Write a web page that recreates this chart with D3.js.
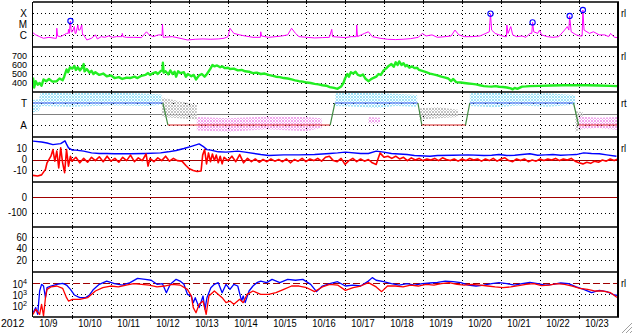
<!DOCTYPE html>
<html>
<head>
<meta charset="utf-8">
<script src="https://cdnjs.cloudflare.com/ajax/libs/d3/7.8.5/d3.min.js"></script>
<style>
body { margin: 0; background: #fff; }
svg { display: block; font-family: "Liberation Sans", Arial, sans-serif; font-size: 11px; }
</style>
</head>
<body>
<svg id="chart" width="633" height="334"></svg>
<script>
// times are days after 2012-10-09 00:00 UT

var xray = [[0,1.7e-6],[0.07,1.1e-6],[0.17,7.6e-7],[0.27,5.4e-7],[0.41,6.6e-7],[0.56,5.4e-7],[0.60,5.4e-7],[0.61,4.4e-6],[0.63,8.7e-7],[0.71,7.6e-7],[0.86,1.5e-6],[0.90,1.5e-6],[0.91,3.5e-6],[0.93,1.5e-6],[0.96,2.0e-5],[0.98,2.1e-6],[1.01,2.1e-6],[1.06,6.2e-6],[1.08,1.5e-6],[1.10,1.5e-6],[1.15,8.7e-6],[1.17,3.0e-6],[1.20,3.0e-6],[1.25,8.7e-6],[1.27,1.1e-6],[1.30,1.1e-6],[1.38,3.8e-7],[1.50,5.4e-7],[1.60,1.1e-6],[1.65,4.7e-7],[1.75,7.6e-7],[1.84,6.6e-7],[1.94,8.7e-7],[2.04,6.6e-7],[2.14,7.6e-7],[2.28,7.6e-7],[2.29,1.5e-6],[2.31,7.6e-7],[2.39,6.6e-7],[2.58,6.6e-7],[2.78,6.2e-7],[2.91,2.1e-6],[2.98,1.1e-6],[3.08,7.6e-7],[3.22,1.1e-6],[3.31,1.1e-6],[3.32,1.0e-5],[3.34,6.6e-7],[3.57,7.6e-7],[3.77,5.4e-7],[3.96,3.8e-7],[4.16,4.4e-7],[4.36,4.7e-7],[4.56,4.4e-7],[4.75,4.7e-7],[4.90,5.4e-7],[5.00,7.6e-7],[5.05,4.4e-6],[5.15,1.5e-6],[5.30,1.1e-6],[5.44,8.7e-7],[5.64,6.6e-7],[5.83,6.6e-7],[5.84,2.1e-6],[5.86,8.7e-7],[6.04,6.6e-7],[6.23,7.6e-7],[6.38,8.7e-7],[6.53,1.1e-6],[6.63,4.4e-6],[6.73,1.5e-6],[6.82,7.6e-7],[7.02,6.6e-7],[7.22,5.8e-7],[7.42,6.2e-7],[7.60,6.6e-7],[7.66,3.5e-6],[7.68,7.6e-7],[8.01,6.2e-7],[8.16,7.6e-7],[8.29,7.6e-7],[8.30,8.7e-6],[8.32,7.6e-7],[8.50,1.5e-6],[8.60,2.1e-6],[8.70,7.6e-7],[8.90,5.4e-7],[9.09,4.4e-7],[9.29,4.1e-7],[9.49,4.4e-7],[9.68,5.0e-7],[9.88,6.6e-7],[9.98,1.5e-6],[10.08,8.7e-7],[10.23,1.1e-6],[10.37,6.6e-7],[10.57,7.6e-7],[10.72,8.7e-7],[10.82,3.0e-6],[10.92,1.1e-6],[11.06,7.6e-7],[11.26,7.6e-7],[11.46,8.7e-7],[11.61,1.5e-6],[11.70,2.1e-6],[11.73,9.3e-5],[11.76,3.0e-6],[11.85,1.5e-6],[11.95,1.1e-6],[12.10,7.6e-7],[12.14,7.6e-7],[12.15,8.7e-6],[12.18,1.5e-6],[12.25,6.2e-6],[12.30,1.1e-6],[12.40,7.6e-7],[12.54,8.7e-7],[12.64,6.6e-7],[12.74,1.5e-6],[12.79,1.5e-6],[12.81,1.5e-5],[12.84,2.1e-6],[12.94,1.5e-6],[12.99,3.0e-6],[13.04,1.1e-6],[13.19,7.6e-7],[13.33,6.6e-7],[13.48,7.6e-7],[13.63,3.0e-6],[13.70,6.2e-6],[13.74,3.0e-6],[13.76,5.8e-5],[13.80,2.1e-6],[13.93,1.1e-6],[14.02,8.7e-7],[14.08,8.7e-7],[14.10,2.0e-4],[14.13,3.0e-6],[14.27,1.5e-6],[14.37,2.1e-6],[14.52,1.1e-6],[14.66,1.1e-6],[14.76,7.6e-7],[14.81,1.5e-6],[14.91,6.6e-7],[15.0,6.2e-7]];
var flares = [[0.96,2.0e-5],[11.73,9.3e-5],[12.81,1.5e-5],[13.76,5.8e-5],[14.10,2.0e-4]];
var xrayTicks = [1e-4, 1e-5, 1e-6];
var xrayClasses = ["X", "M", "C"];

var wind = [[0,460],[0.03,350],[0.07,420],[0.12,380],[0.17,400],[0.22,370],[0.27,440],[0.34,420],[0.41,445],[0.5,415],[0.61,420],[0.68,450],[0.76,430],[0.8,470],[0.86,550],[0.9,520],[0.95,575],[1.01,560],[1.06,590],[1.1,545],[1.15,575],[1.2,540],[1.25,565],[1.30,610],[1.32,530],[1.38,555],[1.45,515],[1.5,535],[1.55,500],[1.6,520],[1.7,490],[1.8,505],[1.89,475],[2.0,485],[2.09,455],[2.2,465],[2.29,445],[2.4,460],[2.49,455],[2.6,470],[2.68,455],[2.78,480],[2.88,490],[2.95,510],[3.0,490],[3.08,510],[3.15,520],[3.2,500],[3.28,535],[3.32,540],[3.33,625],[3.35,515],[3.4,530],[3.47,495],[3.52,540],[3.58,500],[3.63,525],[3.67,470],[3.72,530],[3.78,510],[3.87,520],[3.92,470],[3.97,500],[4.06,475],[4.12,490],[4.18,440],[4.26,485],[4.33,500],[4.4,470],[4.46,500],[4.55,560],[4.6,600],[4.65,585],[4.72,595],[4.8,575],[4.85,585],[4.92,565],[5.0,570],[5.05,555],[5.15,560],[5.25,540],[5.35,545],[5.44,530],[5.54,525],[5.64,510],[5.74,515],[5.84,500],[5.94,505],[6.04,490],[6.15,480],[6.23,470],[6.33,465],[6.43,455],[6.53,450],[6.63,440],[6.72,430],[6.82,420],[6.92,415],[7.02,405],[7.12,400],[7.22,390],[7.32,385],[7.42,375],[7.52,370],[7.61,355],[7.72,345],[7.81,335],[7.9,360],[7.96,400],[8.0,450],[8.06,500],[8.1,470],[8.15,520],[8.21,505],[8.27,525],[8.33,490],[8.40,480],[8.46,495],[8.52,450],[8.6,420],[8.66,440],[8.72,455],[8.8,470],[8.86,500],[8.92,490],[8.99,540],[9.05,560],[9.12,590],[9.19,610],[9.25,580],[9.3,630],[9.35,600],[9.39,640],[9.45,600],[9.5,620],[9.55,585],[9.59,600],[9.65,570],[9.72,585],[9.78,565],[9.85,570],[9.9,545],[9.98,535],[10.08,520],[10.18,505],[10.27,495],[10.37,485],[10.47,470],[10.57,460],[10.65,450],[10.72,420],[10.77,445],[10.85,410],[10.97,405],[11.06,400],[11.16,395],[11.26,390],[11.36,385],[11.46,375],[11.56,365],[11.66,362],[11.76,360],[11.86,365],[11.95,358],[12.05,355],[12.15,350],[12.25,340],[12.3,330],[12.35,345],[12.42,335],[12.54,360],[12.64,362],[12.74,365],[13.0,368],[13.3,372],[13.6,375],[13.9,375],[14.2,375],[14.5,372],[14.8,368],[15,365]];
var windTicks = [700, 600, 500, 400];

// sector: [day, hi, lo] angle bands of scattered points, null = gap
var sectorCyan = [[0,340,240],[0.15,345,250],[0.2,400,290],[1.0,395,285],[2.0,400,295],[3.0,390,290],[3.3,385,300],null,[7.75,395,290],[8.3,400,285],[8.8,395,275],[9.3,390,290],[9.85,380,285],null,[11.2,395,290],[11.8,400,280],[12.5,390,295],[13.2,395,285],[13.9,380,300]];
var sectorPink = [[4.2,200,90],[5.0,190,80],[6.0,205,100],[7.0,200,85],[7.4,190,110],null,[8.6,200,150],[8.9,195,150],null,[14.0,205,100],[14.5,195,110],[15,200,95]];
var sectorGray = [[3.3,360,200],[4.2,300,180],null,[9.9,270,180],[10.4,280,190],[10.9,260,200],null,[13.9,250,80],[14.1,240,100]];
var sectorDays = [0,3.33,3.46,7.62,7.74,9.87,9.97,11.09,11.2,13.86,13.99,15];
var sectorPol = ["T","T","A","A","T","T","A","A","T","T","A","A"];
var sectorTicks = [315, 135];
var sectorNames = ["T", "A"];

var bt = [[0,16.7],[0.22,16],[0.36,15],[0.51,13.6],[0.71,14.5],[0.82,17],[0.86,14],[0.91,10.6],[1.01,8.5],[1.10,8.5],[1.30,7.6],[1.50,6],[1.70,5.5],[1.89,5.5],[2.09,5.2],[2.49,5.2],[2.88,5.5],[3.27,6],[3.47,7],[3.67,8.2],[3.87,10],[4.06,12],[4.26,14.2],[4.36,12],[4.46,9],[4.56,8.5],[4.75,7],[4.95,6.7],[5.25,7.6],[5.44,6.7],[5.84,4.5],[6.04,3.6],[6.43,4.2],[6.82,4.2],[7.22,4.5],[7.61,5.5],[7.81,6],[8.01,6.7],[8.40,5.5],[8.60,5.5],[8.80,7.6],[8.99,6.7],[9.19,5.5],[9.59,4.5],[9.78,3.6],[10.18,3],[10.37,3.6],[10.77,3.9],[11.16,4.2],[11.56,3.6],[11.76,3.9],[11.95,4.5],[12.15,3.6],[12.35,3.9],[12.54,4.5],[12.74,5.2],[12.94,3.9],[13.14,4.2],[13.33,4.5],[13.53,3.9],[13.73,4.2],[13.93,4.5],[14.12,6],[14.32,5.5],[14.52,5.2],[14.71,4.2],[14.96,3]];
var bz = [[0,-14.5],[0.12,-15],[0.22,-14],[0.32,-9],[0.36,-3],[0.46,3],[0.51,9],[0.56,-1.5],[0.61,7.6],[0.66,-7.6],[0.71,10.6],[0.76,-3],[0.81,-12],[0.86,9],[0.91,-6],[0.96,3],[1.0,-1.5],[1.1,2],[1.2,-3],[1.3,1],[1.4,-2.5],[1.5,2],[1.6,-1],[1.7,2.5],[1.8,-2],[1.9,3],[2.0,-1.5],[2.1,1],[2.2,-2.5],[2.3,2],[2.4,-1],[2.5,4],[2.6,-2],[2.7,1.5],[2.8,-1],[2.9,5],[2.95,-6],[3.0,1],[3.1,-2],[3.2,1.5],[3.3,-1],[3.4,3],[3.5,-1.5],[3.6,1],[3.7,-1],[3.82,-1.5],[3.92,-5.5],[4.01,-8.5],[4.11,-10],[4.21,-11],[4.31,-10.5],[4.35,4],[4.4,9],[4.45,-4],[4.5,6],[4.55,-2],[4.6,5],[4.65,-1],[4.7,4],[4.75,-3],[4.8,3],[4.85,-4],[4.9,2],[5.0,-1],[5.1,3],[5.2,-2],[5.3,4.5],[5.4,-3],[5.5,1],[5.6,-2],[5.7,0.5],[5.8,-2.5],[5.9,0],[6.0,-2],[6.1,0.5],[6.2,-1.5],[6.3,0],[6.4,-2],[6.5,0.5],[6.6,-3],[6.7,0],[6.8,-1.5],[6.9,1],[7.0,-2],[7.1,0.5],[7.2,-1],[7.3,1],[7.4,-1.5],[7.5,2],[7.6,3],[7.7,-1],[7.8,-2],[7.9,1],[8.0,-4.5],[8.1,-1],[8.2,1],[8.3,-2],[8.4,0.5],[8.5,-1.5],[8.6,0],[8.7,-3],[8.8,-4.5],[8.85,1],[8.9,6],[8.95,4],[9.0,2],[9.1,3],[9.2,1],[9.3,3],[9.4,0.5],[9.5,2],[9.6,-1],[9.7,1.5],[9.8,-0.5],[9.9,1],[10.0,-1],[10.1,0.5],[10.2,-0.5],[10.3,1],[10.4,-1],[10.5,1.5],[10.6,0],[10.7,-1],[10.8,0.5],[10.9,-1.5],[11.0,0.5],[11.1,-1],[11.2,1],[11.3,-0.5],[11.4,0.5],[11.5,-1.5],[11.6,0.5],[11.7,-1],[11.8,1],[11.9,-1.5],[12.0,0.5],[12.1,1.5],[12.2,-1],[12.3,-2],[12.4,0.5],[12.5,-1],[12.6,0.5],[12.7,-2],[12.8,-0.5],[12.9,-1.5],[13.0,0.5],[13.1,-1],[13.2,0.5],[13.3,-0.5],[13.4,1],[13.5,-1],[13.6,0.5],[13.7,-0.5],[13.8,1],[13.9,-1.5],[14.0,-3],[14.1,-4],[14.2,-2.5],[14.3,-3.5],[14.4,-1.5],[14.5,-2.5],[14.6,-0.5],[14.7,-1.5],[14.8,0.5],[14.9,-1],[15.0,0.5]];
var imfTicks = [10, 0, -10];

var dstTicks = [0, -100];
var kpTicks = [60, 40, 20];

var elecBlue = [[0,21],[0.07,62],[0.12,15],[0.17,2000],[0.22,8100],[0.27,5700],[0.32,500],[0.36,4000],[0.46,5700],[0.61,8100],[0.76,10000],[0.86,7000],[0.96,2800],[1.06,870],[1.20,500],[1.35,500],[1.45,870],[1.55,2800],[1.70,8100],[1.89,16000],[2.09,9300],[2.29,7000],[2.49,11500],[2.68,28000],[2.88,23000],[3.03,19000],[3.18,8100],[3.32,9300],[3.42,1400],[3.52,8100],[3.67,23000],[3.77,16000],[3.87,8100],[3.96,1000],[4.06,700],[4.11,175],[4.16,500],[4.26,62],[4.36,700],[4.41,44],[4.46,500],[4.56,4000],[4.65,8100],[4.75,11500],[4.85,1400],[4.95,8100],[5.05,2800],[5.15,8100],[5.25,5700],[5.35,245],[5.39,700],[5.44,175],[5.54,2000],[5.64,5700],[5.74,11500],[5.84,16000],[5.99,11500],[6.13,23000],[6.33,11500],[6.53,23000],[6.73,19000],[6.92,23000],[7.12,8100],[7.27,1750],[7.42,5700],[7.61,9300],[7.81,14000],[8.01,5700],[8.21,7000],[8.40,5700],[8.60,16000],[8.70,33000],[8.80,19000],[8.99,14000],[9.19,9300],[9.39,7000],[9.59,9300],[9.78,7000],[9.98,9300],[10.18,10700],[10.37,12300],[10.57,16000],[10.77,14000],[10.97,11500],[11.16,7000],[11.36,5700],[11.56,7000],[11.76,9300],[11.95,11500],[12.15,9300],[12.35,7000],[12.54,9300],[12.74,12300],[12.94,9300],[13.14,7000],[13.33,8100],[13.53,10700],[13.73,9300],[13.93,4700],[14.12,2800],[14.32,1400],[14.52,2300],[14.71,1750],[14.91,870],[15,800]];
var elecRed = [[0,15],[0.07,44],[0.17,15],[0.22,123],[0.27,11],[0.32,500],[0.36,2800],[0.46,4700],[0.61,5700],[0.76,3500],[0.86,500],[0.91,245],[1.01,350],[1.20,350],[1.40,500],[1.60,2000],[1.79,4000],[1.99,5700],[2.19,4700],[2.39,7000],[2.58,9300],[2.78,8100],[2.98,7000],[3.18,4700],[3.37,5700],[3.57,8100],[3.77,7000],[3.96,2800],[4.06,700],[4.11,62],[4.18,21],[4.26,123],[4.36,245],[4.44,15],[4.51,700],[4.65,2000],[4.85,500],[4.95,175],[5.05,245],[5.15,123],[5.30,350],[5.39,175],[5.49,1000],[5.64,2000],[5.84,1000],[6.04,1000],[6.23,1400],[6.43,2800],[6.63,5700],[6.82,5700],[7.02,4000],[7.22,1750],[7.42,4700],[7.61,8100],[7.81,7000],[8.01,2300],[8.21,4000],[8.40,5700],[8.60,11500],[8.80,4700],[8.94,1750],[9.09,5700],[9.29,5700],[9.49,4700],[9.68,7000],[9.88,5700],[10.08,8100],[10.28,7000],[10.47,9300],[10.67,11500],[10.87,8100],[11.06,7000],[11.26,8100],[11.46,7000],[11.66,5700],[11.85,4700],[12.05,4000],[12.25,4700],[12.45,6100],[12.64,8100],[12.84,9300],[13.04,6100],[13.23,7000],[13.43,9300],[13.63,8100],[13.83,5700],[14.02,3500],[14.22,2800],[14.42,2000],[14.62,2000],[14.81,1400],[14.96,570],[15,500]];
var elecTicks = [1e4, 1e3, 1e2];
var elecExp = ["4", "3", "2"];

var year = "2012";

var svg = d3.select("#chart"),
    L = 33, R = 618, PH = 45,
    tops = [2, 47, 92, 137, 182, 227, 272],
    bottom = 317;

var t0 = Date.UTC(2012, 9, 9), t1 = Date.UTC(2012, 9, 24), DAY = 864e5;
var x = d3.scaleUtc().domain([t0, t1]).range([L, R]);
function X(d) { return x(t0 + d * DAY); }

var yXray = d3.scaleLog().domain([8.7e-8, 1.07e-3]).range([tops[0] + PH, tops[0]]);
var yWind = d3.scaleLinear().domain([300, 800]).range([tops[1] + PH, tops[1]]);
var ySect = d3.scaleLinear().domain([37, 405]).range([tops[2] + PH, tops[2]]);
var yImf = d3.scaleLinear().domain([-20.5, 20.5]).range([tops[3] + PH, tops[3]]);
var yDst = d3.scaleLinear().domain([-193, 99]).range([tops[4] + PH, tops[4]]);
var yKp = d3.scaleLinear().domain([0, 77.5]).range([tops[5] + PH, tops[5]]);
var yElec = d3.scaleLog().domain([8.7, 1.07e5]).range([tops[6] + PH, tops[6]]);

// clip paths, one per panel
var defs = svg.append("defs");
tops.forEach(function(t, i) {
  defs.append("clipPath").attr("id", "clip" + i)
    .append("rect").attr("x", L).attr("y", t).attr("width", R - L).attr("height", PH);
});
function dotPattern(id, color) {
  var p = defs.append("pattern").attr("id", id).attr("patternUnits", "userSpaceOnUse")
    .attr("width", 3).attr("height", 3);
  p.append("rect").attr("width", 2).attr("height", 2).attr("fill", color);
  p.append("rect").attr("x", 2).attr("y", 2).attr("width", 1).attr("height", 1).attr("fill", color);
}
dotPattern("dotCyan", "#9fe2f8");
dotPattern("dotPink", "#f2a8ee");
dotPattern("dotGray", "#c4c4c4");

var crisp = function(v) { return Math.round(v) + 0.5; };

// vertical day grid
var days = d3.utcDay.range(t0 + DAY, t1);
var grid = svg.append("g");
tops.forEach(function(t) {
  grid.selectAll(null).data(days).enter().append("line")
    .attr("x1", function(d) { return crisp(x(d)); })
    .attr("x2", function(d) { return crisp(x(d)); })
    .attr("y1", t).attr("y2", t + PH)
    .attr("stroke", "#000").attr("stroke-dasharray", "1,3");
});

function hDots(scale, vals) {
  grid.selectAll(null).data(vals).enter().append("line")
    .attr("x1", L).attr("x2", R)
    .attr("y1", function(d) { return crisp(scale(d)); })
    .attr("y2", function(d) { return crisp(scale(d)); })
    .attr("stroke", "#000").attr("stroke-dasharray", "1,3");
}
hDots(yXray, xrayTicks);
hDots(yWind, windTicks);
hDots(ySect, sectorTicks);
hDots(yImf, [10, -10]);
hDots(yDst, [-100]);
hDots(yKp, kpTicks);
hDots(yElec, [1e3, 1e2]);

function refLine(scale, v, color, dash) {
  grid.append("line").attr("x1", L).attr("x2", R)
    .attr("y1", crisp(scale(v))).attr("y2", crisp(scale(v)))
    .attr("stroke", color).attr("stroke-width", 1.2)
    .attr("stroke-dasharray", dash || null);
}

function series(i, data, scale, color, w) {
  svg.append("path").datum(data)
    .attr("clip-path", "url(#clip" + i + ")")
    .attr("d", d3.line().x(function(d) { return X(d[0]); }).y(function(d) { return scale(d[1]); }))
    .attr("fill", "none").attr("stroke", color).attr("stroke-width", w)
    .attr("stroke-linejoin", "round");
}

// panel 1: x-ray
series(0, xray, yXray, "#ff00ff", 1);
svg.selectAll(null).data(flares).enter().append("circle")
  .attr("cx", function(d) { return X(d[0]); })
  .attr("cy", function(d) { return yXray(d[1]); })
  .attr("r", 2.6).attr("fill", "none").attr("stroke", "#0000ff").attr("stroke-width", 1.1);

// panel 2: wind speed
series(1, wind, yWind, "#22ee22", 2.4);

// panel 3: sector
function band(data, fill) {
  svg.append("path").datum(data)
    .attr("clip-path", "url(#clip2)")
    .attr("d", d3.area().defined(function(d) { return d; })
      .x(function(d) { return X(d[0]); })
      .y0(function(d) { return ySect(d[2]); })
      .y1(function(d) { return ySect(d[1]); }))
    .attr("fill", fill);
}
band(sectorGray, "url(#dotGray)");
band(sectorCyan, "url(#dotCyan)");
band(sectorPink, "url(#dotPink)");
refLine(ySect, 225, "#808080");
var polAngle = { T: sectorTicks[0], A: sectorTicks[1] };
d3.range(sectorDays.length - 1).forEach(function(i) {
  var a = sectorPol[i], b = sectorPol[i + 1];
  var col = a !== b ? "#3f8a3f" : (a === "T" ? "#4a5cf0" : "#e02a2a");
  svg.append("line")
    .attr("x1", X(sectorDays[i])).attr("x2", X(sectorDays[i + 1]))
    .attr("y1", ySect(polAngle[a])).attr("y2", ySect(polAngle[b]))
    .attr("stroke", col).attr("stroke-width", 1.2);
});

// panel 4: IMF
refLine(yImf, 0, "#a00000");
series(3, bt, yImf, "#0000ff", 1.4);
series(3, bz, yImf, "#ff0000", 1.6);

// panel 5 and 6: empty
refLine(yDst, 0, "#a00000");

// panel 7: electrons
refLine(yElec, 1e4, "#a00000", "7,3");
series(6, elecBlue, yElec, "#0000ff", 1.3);
series(6, elecRed, yElec, "#ff0000", 1.3);

// frame
var frame = svg.append("g").attr("stroke", "#000");
tops.concat([bottom]).forEach(function(t) {
  frame.append("line").attr("x1", L).attr("x2", R + 1).attr("y1", t).attr("y2", t).attr("stroke-width", 1.6);
  frame.selectAll(null).data(days).enter().append("line")
    .attr("x1", function(d) { return crisp(x(d)); })
    .attr("x2", function(d) { return crisp(x(d)); })
    .attr("y1", t - 2).attr("y2", t + 2);
});
frame.append("line").attr("x1", L - 0.5).attr("x2", L - 0.5).attr("y1", tops[0]).attr("y2", bottom);
frame.append("line").attr("x1", R).attr("x2", R).attr("y1", tops[0]).attr("y2", bottom).attr("stroke-width", 2);

// labels
function label(txt, xx, yy, anchor, size, sx) {
  return svg.append("text")
    .attr("transform", "translate(" + xx + "," + yy + ") scale(" + (sx || 0.85) + ",1)")
    .attr("text-anchor", anchor).attr("dy", "0.35em").attr("font-size", (size || 11) + "px")
    .attr("fill", "#000").text(txt);
}
xrayTicks.forEach(function(v, i) { label(xrayClasses[i], 27, yXray(v), "end", 10.5, 0.95); });
windTicks.forEach(function(v) { label(v, 27, yWind(v), "end", 9.5, 0.95); });
sectorTicks.forEach(function(v, i) { label(sectorNames[i], 27, ySect(v), "end", 10.5, 0.95); });
imfTicks.forEach(function(v) { label(v, 27, yImf(v), "end", 10.5, 0.9); });
dstTicks.forEach(function(v) { label(v, 27, yDst(v), "end", 10.5, 0.9); });
kpTicks.forEach(function(v) { label(v, 27, yKp(v), "end", 10.5, 0.9); });
elecTicks.forEach(function(v, i) {
  var t = label("", 27, yElec(v) + 1, "end", 10.5, 0.9);
  t.append("tspan").text("10");
  t.append("tspan").attr("font-size", "8px").attr("dy", "-4").text(elecExp[i]);
});

label("rl", 621, yXray(xrayTicks[0]), "start");
label("rl", 621, yWind(windTicks[0]), "start");
label("rt", 621, ySect(sectorTicks[0]), "start");
label("rl", 621, yImf(imfTicks[0]), "start");
label("rl", 621, yElec(elecTicks[0]), "start");

var fmt = d3.utcFormat("%-m/%-d");
d3.utcDay.range(t0, t1).forEach(function(d) { label(fmt(d), x(d) + 6.3, 323.5, "start"); });
label(year, 1, 323.5, "start", 11, 0.95);

// window resize grip
var grip = svg.append("g").attr("stroke-width", 1);
[0, 4, 8].forEach(function(o) {
  grip.append("line").attr("x1", 622 + o).attr("y1", 333).attr("x2", 632).attr("y2", 323 + o).attr("stroke", "#a0a0a0");
  grip.append("line").attr("x1", 623 + o).attr("y1", 333).attr("x2", 632).attr("y2", 324 + o).attr("stroke", "#ffffff");
});
</script>
</body>
</html>
